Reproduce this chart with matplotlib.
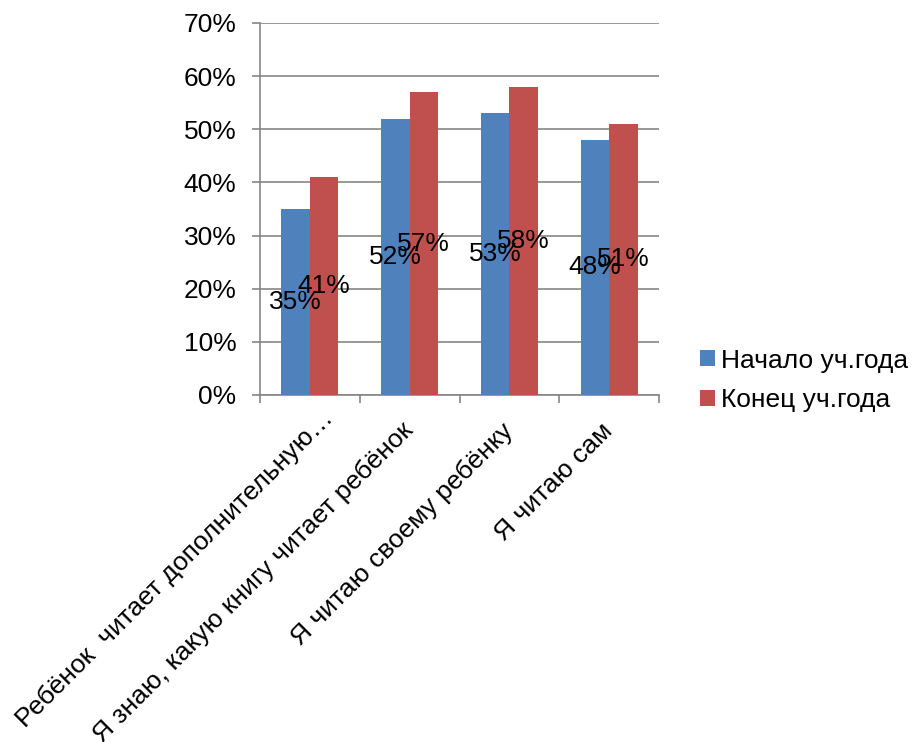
import matplotlib
matplotlib.use("Agg")
import matplotlib.pyplot as plt
import numpy as np
from matplotlib.ticker import PercentFormatter
from matplotlib.transforms import ScaledTranslation

plt.rcParams['font.family'] = ['Liberation Sans', 'DejaVu Sans']

categories = ["Ребёнок  читает дополнительную…",
              "Я знаю, какую книгу читает ребёнок",
              "Я читаю своему ребёнку",
              "Я читаю сам"]
series_names = ["Начало уч.года", "Конец уч.года"]
start_vals = [0.35, 0.52, 0.53, 0.48]
end_vals = [0.41, 0.57, 0.58, 0.51]
colors = ["#4F81BD", "#C0504D"]
yticks = [0.0, 0.1, 0.2, 0.3, 0.4, 0.5, 0.6, 0.7]

FS = 19
grid_c = "#868686"

fig = plt.figure(figsize=(9.16, 7.42), dpi=100)
ax = fig.add_axes([260/916, 1-395/742, (659-260)/916, (395-23)/742])

x = np.arange(len(categories))
w = 0.286
b1 = ax.bar(x - w/2, start_vals, w, color=colors[0], label=series_names[0], zorder=3)
b2 = ax.bar(x + w/2, end_vals, w, color=colors[1], label=series_names[1], zorder=3)

for bars, vals in ((b1, start_vals), (b2, end_vals)):
    for r, v in zip(bars, vals):
        ax.text(r.get_x() + r.get_width()/2, v/2, f"{round(v*100)}%",
                ha='center', va='center', fontsize=FS, color='black', zorder=5)

ax.set_xlim(-0.5, len(categories) - 0.5)
ax.set_ylim(0, 0.7)
ax.set_yticks(yticks)
ax.yaxis.set_major_formatter(PercentFormatter(1.0, decimals=0))
ax.yaxis.grid(True, color=grid_c, linewidth=1.2, zorder=0)
ax.set_axisbelow(True)

ax.set_xticks(np.arange(-0.5, len(categories)), labels=[""] * (len(categories) + 1))
ax.set_xticks(x, labels=categories, minor=True)
ax.tick_params(axis='x', which='major', length=6, width=1.2, color=grid_c, direction='out')
ax.tick_params(axis='x', which='minor', length=0, pad=23, labelsize=FS)
ax.tick_params(axis='y', length=6, width=1.2, color=grid_c, direction='out', pad=11, labelsize=FS)

for s in ('top', 'right'):
    ax.spines[s].set_visible(False)
for s in ('left', 'bottom'):
    ax.spines[s].set_color(grid_c)
    ax.spines[s].set_linewidth(1.2)

labs = ax.get_xticklabels(minor=True)
for i, lab in enumerate(labs):
    lab.set_rotation(45)
    lab.set_ha('right')
    lab.set_va('center')
    lab.set_rotation_mode('anchor')
    if i == 0:
        lab.set_transform(lab.get_transform() +
                          ScaledTranslation(20/100, 12/100, fig.dpi_scale_trans))

fig.legend(handles=[b1, b2], labels=series_names, loc='center left',
           bbox_to_anchor=(700/916, 1-380.5/742), frameon=False, fontsize=FS,
           handlelength=0.55, handleheight=0.55, handletextpad=0.25,
           labelspacing=0.6, borderpad=0, borderaxespad=0)

fig.savefig("out.png", dpi=100)
